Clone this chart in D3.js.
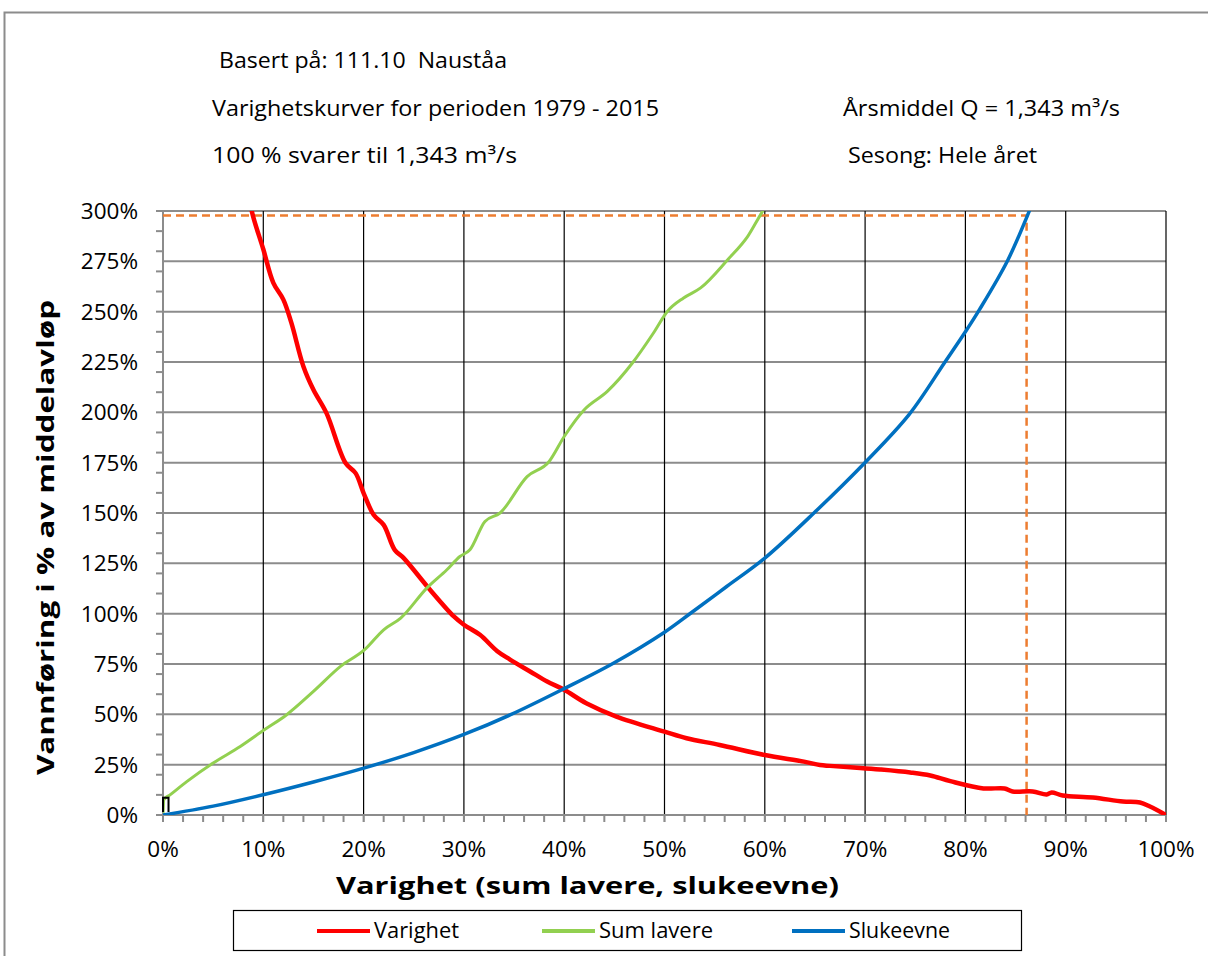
<!DOCTYPE html>
<html>
<head>
<meta charset="utf-8">
<script src="https://cdn.jsdelivr.net/npm/d3@7"></script>
<style>
  body { margin: 0; background: #fff; }
  text { font-family: "Open Sans", sans-serif; fill: #000; }
</style>
</head>
<body>
<div id="chart"></div>
<script>
// duration curves, x = % of time, y = % of mean flow
var varighetX = [8.6, 8.85, 10, 11, 12, 12.8, 14, 15, 16.3, 18.2, 19.2, 20, 21, 22, 23.1, 24, 26.6, 29, 30, 31.6, 33.3, 34.6, 36.6, 38.3, 40, 42.2, 45.2, 50, 52.2, 55.5, 60, 63.9, 65.5, 66.5, 69.5, 71.5, 74.5, 76.5, 78.5, 81.8, 83.9, 84.7, 86.7, 88.1, 88.6, 89.7, 92.7, 95.7, 97.4, 98.4, 100];
var varighetY = [310, 300, 281, 264.3, 256, 244.4, 222.8, 211.2, 199.6, 174.8, 169.8, 159.9, 149.1, 144.1, 131.7, 127.6, 112, 98.6, 94.5, 89.5, 81.5, 77.2, 71.3, 66.3, 62.2, 55.5, 48.9, 41.4, 38.1, 34.8, 29.8, 26.5, 24.8, 24.4, 23.4, 22.6, 21.1, 19.6, 16.8, 13.2, 13.2, 11.7, 11.7, 10.2, 11.2, 9.7, 8.7, 6.7, 6.2, 4.2, 0];

var sumLavereX = [0, 0.08, 0.7, 2.4, 5, 7.7, 10.1, 12.3, 15, 17.7, 20.1, 22, 23.7, 26.3, 28.3, 29.6, 30.6, 32.1, 33.6, 36.3, 38.5, 40, 42, 44.3, 46.8, 48.9, 50.3, 51.9, 53.6, 56.3, 58.3, 59.8, 60.2];
var sumLavereY = [0, 7.6, 10, 16.7, 25.8, 34, 42.3, 49.7, 61.4, 73.8, 82.1, 92, 97.8, 112.7, 121.8, 128.4, 131.7, 145.8, 150, 168.1, 175.6, 188, 201.3, 210.4, 224.5, 239.4, 250.2, 256.8, 261.8, 275.8, 287.4, 300, 303];

var slukeevneX = [0, 5, 10.1, 15, 20.1, 25, 30, 34.6, 40, 44.9, 50, 52.6, 56.2, 60, 64.9, 70, 74.4, 77.9, 80, 81.4, 84.2, 86.4, 86.7];
var slukeevneY = [0, 4.4, 10.2, 16.4, 23.4, 31, 40, 49.7, 62.8, 75.4, 90.8, 100.2, 113.5, 127.6, 150, 175.1, 199, 224.5, 240, 251, 275.3, 300.3, 304];

// small black marker near origin
var markX = [0, 0, 0.55, 0.55];
var markY = [1.5, 8.6, 8.6, 1.5];

// orange reference lines (point where slukeevne reaches top)
var refX = 86.1;
var refY = 297.8;

var xTicks = [0, 10, 20, 30, 40, 50, 60, 70, 80, 90, 100];
var yTicks = [0, 25, 50, 75, 100, 125, 150, 175, 200, 225, 250, 275, 300];

var seriesNames = ["Varighet", "Sum lavere", "Slukeevne"];
var seriesColors = ["#FF0000", "#92D050", "#0070C0"];

var W = 1208, H = 956;
var margin = { left: 163, top: 211, right: 42, bottom: 141 };
var width = W - margin.left - margin.right;
var height = H - margin.top - margin.bottom;

var svg = d3.select("#chart").append("svg")
    .attr("width", W)
    .attr("height", H);

// outer chart frame
svg.append("rect")
    .attr("x", 4.5).attr("y", 12.5)
    .attr("width", 1300).attr("height", 1100)
    .style("fill", "none")
    .style("stroke", "#8c8c8c")
    .style("stroke-width", 2);

// header texts
var header = [
    { t: "Basert på: 111.10  Nauståa", x: 219, y: 68, w: 288 },
    { t: "Varighetskurver for perioden 1979 - 2015", x: 212, y: 116, w: 447 },
    { t: "100 % svarer til 1,343 m³/s", x: 212, y: 163, w: 305 },
    { t: "Årsmiddel Q = 1,343 m³/s", x: 843, y: 116, w: 277 },
    { t: "Sesong: Hele året", x: 848, y: 163, w: 189 }
];
svg.selectAll(".hdr").data(header).enter().append("text")
    .attr("class", "hdr")
    .attr("x", function (d) { return d.x; })
    .attr("y", function (d) { return d.y; })
    .attr("textLength", function (d) { return d.w; })
    .attr("lengthAdjust", "spacingAndGlyphs")
    .style("font-size", "21px")
    .style("white-space", "pre")
    .text(function (d) { return d.t; });

var g = svg.append("g")
    .attr("transform", "translate(" + margin.left + "," + margin.top + ")");

var x = d3.scaleLinear().domain([0, 100]).range([0, width]);
var y = d3.scaleLinear().domain([0, 300]).range([height, 0]);

// horizontal gridlines (gray)
g.selectAll(".hgrid").data(yTicks.filter(function (d) { return d > 0; })).enter().append("line")
    .attr("x1", 0).attr("x2", width)
    .attr("y1", function (d) { return y(d); })
    .attr("y2", function (d) { return y(d); })
    .style("stroke", "#8c8c8c")
    .style("stroke-width", 2);

// vertical gridlines (black)
g.selectAll(".vgrid").data(xTicks.filter(function (d) { return d > 0; })).enter().append("line")
    .attr("x1", function (d) { return x(d); })
    .attr("x2", function (d) { return x(d); })
    .attr("y1", 0).attr("y2", height + 7)
    .style("stroke", "#000")
    .style("stroke-width", 1.2);

// minor ticks
var yMinor = d3.range(0, 301, 10);
g.selectAll(".ymin").data(yMinor).enter().append("line")
    .attr("x1", -7).attr("x2", 0)
    .attr("y1", function (d) { return y(d); })
    .attr("y2", function (d) { return y(d); })
    .style("stroke", "#8c8c8c")
    .style("stroke-width", 2);

var xMinor = d3.range(0, 101, 2);
g.selectAll(".xmin").data(xMinor).enter().append("line")
    .attr("x1", function (d) { return x(d); })
    .attr("x2", function (d) { return x(d); })
    .attr("y1", height).attr("y2", height + 7)
    .style("stroke", "#8c8c8c")
    .style("stroke-width", 2);

// axis lines
g.append("line")
    .attr("x1", 0).attr("x2", 0).attr("y1", 0).attr("y2", height + 7)
    .style("stroke", "#8c8c8c").style("stroke-width", 2);
g.append("line")
    .attr("x1", 0).attr("x2", width).attr("y1", height).attr("y2", height)
    .style("stroke", "#8c8c8c").style("stroke-width", 2);

// tick labels
g.selectAll(".ylab").data(yTicks).enter().append("text")
    .attr("x", -25)
    .attr("y", function (d) { return y(d); })
    .attr("dy", "0.36em")
    .attr("text-anchor", "end")
    .style("font-size", "22.5px")
    .text(function (d) { return d + "%"; });

g.selectAll(".xlab").data(xTicks).enter().append("text")
    .attr("x", function (d) { return x(d); })
    .attr("y", height + 42)
    .attr("text-anchor", "middle")
    .style("font-size", "22.5px")
    .text(function (d) { return d + "%"; });

// axis titles
svg.append("text")
    .attr("x", 336).attr("y", 894)
    .attr("textLength", 503)
    .attr("lengthAdjust", "spacingAndGlyphs")
    .style("font-size", "23px")
    .style("font-weight", "bold")
    .text("Varighet (sum lavere, slukeevne)");

svg.append("text")
    .attr("transform", "translate(54,775) rotate(-90)")
    .attr("textLength", 475)
    .attr("lengthAdjust", "spacingAndGlyphs")
    .style("font-size", "23px")
    .style("font-weight", "bold")
    .text("Vannføring i % av middelavløp");

// clip to plot area
g.append("clipPath").attr("id", "plot-clip")
    .append("rect")
    .attr("x", 0).attr("y", 0)
    .attr("width", width).attr("height", height);

var straight = d3.line()
    .x(function (d) { return x(d[0]); })
    .y(function (d) { return y(d[1]); });

var plot = g.append("g").attr("clip-path", "url(#plot-clip)");

// orange reference lines
plot.append("path")
    .datum([[0, refY], [refX, refY], [refX, 0]])
    .attr("d", straight)
    .style("fill", "none")
    .style("stroke", "#ED7D31")
    .style("stroke-width", 2.5)
    .style("stroke-dasharray", "8,5");

var seriesData = [
    d3.zip(varighetX, varighetY),
    d3.zip(sumLavereX, sumLavereY),
    d3.zip(slukeevneX, slukeevneY)
];
var widths = [4.5, 3, 3.5];
var curves = [d3.curveCatmullRom, d3.curveMonotoneX, d3.curveCatmullRom];

seriesData.forEach(function (s, i) {
    plot.append("path")
        .datum(s)
        .attr("d", d3.line()
            .x(function (d) { return x(d[0]); })
            .y(function (d) { return y(d[1]); })
            .curve(curves[i]))
        .style("fill", "none")
        .style("stroke", seriesColors[i])
        .style("stroke-width", widths[i])
        .style("stroke-linejoin", "round");
});

g.append("path")
    .datum(d3.zip(markX, markY))
    .attr("d", straight)
    .style("fill", "none")
    .style("stroke", "#000")
    .style("stroke-width", 2);

// legend
var legend = svg.append("g");
legend.append("rect")
    .attr("x", 233.5).attr("y", 910.5)
    .attr("width", 788).attr("height", 40)
    .style("fill", "#fff")
    .style("stroke", "#000")
    .style("stroke-width", 1.2);

var legX = [317, 542, 792];
var legW = [85, 114, 101];
seriesNames.forEach(function (n, i) {
    legend.append("line")
        .attr("x1", legX[i]).attr("x2", legX[i] + 53)
        .attr("y1", 931).attr("y2", 931)
        .style("stroke", seriesColors[i])
        .style("stroke-width", 4);
    legend.append("text")
        .attr("x", legX[i] + 57).attr("y", 938)
        .attr("textLength", legW[i])
        .attr("lengthAdjust", "spacingAndGlyphs")
        .style("font-size", "21px")
        .text(n);
});
</script>
</body>
</html>
